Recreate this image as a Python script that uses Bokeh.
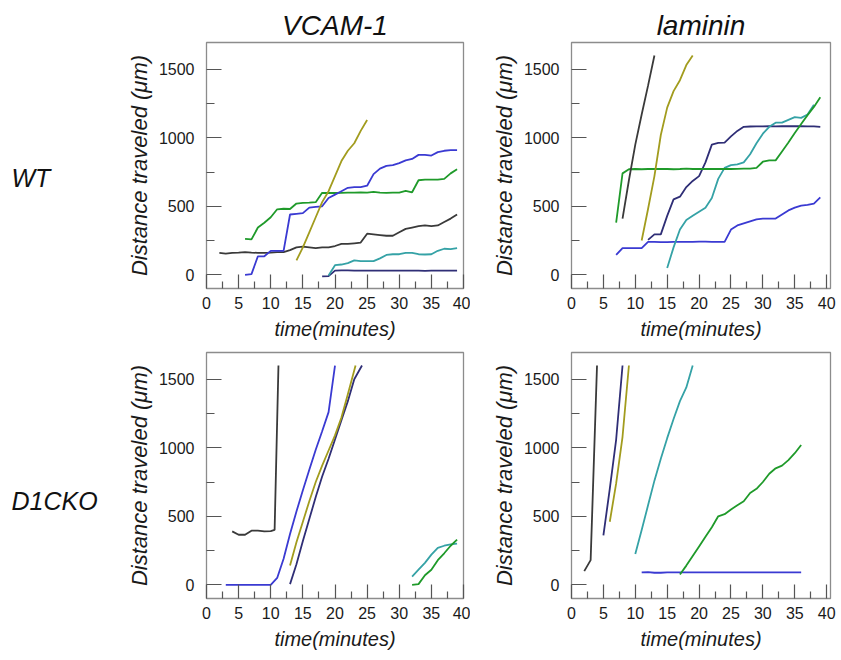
from bokeh.plotting import figure
from bokeh.models import Range1d, FixedTicker, Label
from bokeh.layouts import column, row
from bokeh.embed import file_html
from bokeh.resources import INLINE

# ---------------- data ----------------
col_titles = ["VCAM-1", "laminin"]
row_titles = ["WT", "D1CKO"]
x_ticks = [0, 5, 10, 15, 20, 25, 30, 35, 40]
x_minor = [2.5, 7.5, 12.5, 17.5, 22.5, 27.5, 32.5, 37.5]
y_ticks = [0, 500, 1000, 1500]
y_minor = [250, 750, 1250]

# VCAM-1, WT
vw_black_t = [2, 3, 4, 5, 6, 7, 8, 9, 10, 11, 12, 13, 14, 15, 16, 17, 18, 19, 20, 21, 22, 23, 24, 25, 26, 27, 28, 29, 30, 31, 32, 33, 34, 35, 36, 37, 38, 39]
vw_black_d = [160, 155, 160, 162, 165, 162, 160, 160, 162, 165, 165, 180, 200, 205, 200, 195, 200, 200, 210, 225, 225, 230, 235, 300, 295, 290, 285, 285, 310, 335, 345, 355, 360, 355, 360, 385, 410, 440]
vw_green_t = [6, 7, 8, 9, 10, 11, 12, 13, 14, 15, 16, 17, 18, 19, 20, 21, 22, 23, 24, 25, 26, 27, 28, 29, 30, 31, 32, 33, 34, 35, 36, 37, 38, 39]
vw_green_d = [262, 258, 345, 380, 420, 478, 482, 480, 520, 525, 527, 530, 598, 597, 597, 598, 600, 600, 602, 600, 605, 600, 598, 600, 600, 612, 602, 690, 695, 695, 695, 700, 740, 770]
vw_blue_t = [6, 7, 8, 9, 10, 11, 12, 13, 14, 15, 16, 17, 18, 19, 20, 21, 22, 23, 24, 25, 26, 27, 28, 29, 30, 31, 32, 33, 34, 35, 36, 37, 38, 39]
vw_blue_d = [0, 5, 135, 135, 175, 175, 175, 440, 445, 450, 490, 495, 500, 560, 585, 610, 635, 640, 640, 650, 735, 775, 795, 800, 815, 835, 845, 875, 875, 870, 895, 905, 910, 910]
vw_olive_t = [14, 15, 16, 17, 18, 19, 20, 21, 22, 23, 24, 25]
vw_olive_d = [105, 200, 310, 420, 530, 610, 720, 830, 905, 960, 1050, 1130]
vw_teal_t = [19, 20, 21, 22, 23, 24, 25, 26, 27, 28, 29, 30, 31, 32, 33, 34, 35, 36, 37, 38, 39]
vw_teal_d = [-5, 70, 75, 85, 105, 100, 100, 100, 120, 145, 150, 150, 160, 160, 150, 148, 150, 175, 190, 188, 195]
vw_navy_t = [18, 19, 20, 21, 22, 23, 24, 25, 26, 27, 28, 29, 30, 31, 32, 33, 34, 35, 36, 37, 38, 39]
vw_navy_d = [-12, -10, 30, 32, 32, 31, 30, 30, 31, 30, 30, 30, 31, 30, 30, 30, 29, 30, 30, 30, 30, 30]

# laminin, WT
lw_black_t = [8, 9, 10, 11, 12, 13]
lw_black_d = [410, 690, 950, 1170, 1380, 1600]
lw_olive_t = [11, 12, 13, 14, 15, 16, 17, 18, 19]
lw_olive_d = [250, 480, 720, 1020, 1220, 1340, 1420, 1530, 1600]
lw_green_t = [7, 8, 9, 10, 11, 12, 13, 14, 15, 16, 17, 18, 19, 20, 21, 22, 23, 24, 25, 26, 27, 28, 29, 30, 31, 32, 33, 34, 35, 36, 37, 38, 39]
lw_green_d = [380, 740, 770, 772, 770, 772, 773, 772, 772, 770, 772, 775, 772, 772, 772, 773, 772, 772, 772, 773, 775, 775, 780, 825, 835, 835, 900, 965, 1035, 1100, 1165, 1225, 1295]
lw_navy_t = [12, 13, 14, 15, 16, 17, 18, 19, 20, 21, 22, 23, 24, 25, 26, 27, 28, 29, 30, 31, 32, 33, 34, 35, 36, 37, 38, 39]
lw_navy_d = [255, 295, 295, 430, 550, 570, 640, 685, 720, 820, 950, 962, 965, 1010, 1050, 1080, 1082, 1083, 1083, 1084, 1083, 1084, 1084, 1085, 1084, 1083, 1083, 1080]
lw_teal_t = [15, 16, 17, 18, 19, 20, 21, 22, 23, 24, 25, 26, 27, 28, 29, 30, 31, 32, 33, 34, 35, 36, 37, 38]
lw_teal_d = [50, 200, 330, 400, 430, 460, 490, 560, 700, 780, 800, 805, 820, 880, 960, 1030, 1080, 1110, 1110, 1130, 1150, 1145, 1170, 1240]
lw_blue_t = [7, 8, 9, 10, 11, 12, 13, 14, 15, 16, 17, 18, 19, 20, 21, 22, 23, 24, 25, 26, 27, 28, 29, 30, 31, 32, 33, 34, 35, 36, 37, 38, 39]
lw_blue_d = [145, 195, 195, 195, 195, 240, 240, 238, 238, 240, 240, 240, 240, 242, 242, 240, 240, 240, 330, 360, 375, 390, 405, 410, 410, 410, 440, 470, 490, 505, 510, 520, 565]

# VCAM-1, D1CKO
vk_black_t = [4, 5, 6, 7, 8, 9, 10, 10.6, 11.2]
vk_black_d = [390, 365, 365, 395, 395, 390, 392, 400, 1600]
vk_blue_t = [3, 4, 5, 6, 7, 8, 9, 10, 11, 12, 13, 14, 15, 16, 17, 18, 19, 20]
vk_blue_d = [0, 0, 0, 0, 0, 0, 0, 0, 50, 190, 370, 535, 690, 840, 985, 1120, 1260, 1600]
vk_olive_t = [13, 14, 15, 16, 17, 18, 19, 20, 21, 22, 23.2]
vk_olive_d = [140, 310, 460, 610, 750, 870, 980, 1090, 1220, 1390, 1600]
vk_navy_t = [13, 14, 15, 16, 17, 18, 19, 20, 21, 22, 23, 24.2]
vk_navy_d = [5, 150, 320, 480, 640, 790, 920, 1060, 1200, 1340, 1500, 1600]
vk_teal_t = [32, 33, 34, 35, 36, 37, 38, 39]
vk_teal_d = [60, 110, 160, 220, 270, 285, 295, 300]
vk_green_t = [32, 33, 34, 35, 36, 37, 38, 39]
vk_green_d = [0, 5, 70, 110, 180, 230, 285, 330]

# laminin, D1CKO
lk_black_t = [2, 3, 4]
lk_black_d = [100, 180, 1600]
lk_navy_t = [5, 6, 7, 8]
lk_navy_d = [360, 700, 1060, 1600]
lk_olive_t = [6, 7, 8, 9]
lk_olive_d = [460, 740, 1080, 1600]
lk_teal_t = [10, 11, 12, 13, 14, 15, 16, 17, 18, 19]
lk_teal_d = [225, 400, 580, 760, 920, 1070, 1210, 1340, 1440, 1600]
lk_blue_t = [11, 12, 13, 14, 15, 16, 17, 18, 19, 20, 21, 22, 23, 24, 25, 26, 27, 28, 29, 30, 31, 32, 33, 34, 35, 36]
lk_blue_d = [90, 92, 88, 88, 90, 90, 90, 90, 90, 90, 90, 90, 90, 90, 90, 90, 90, 90, 90, 90, 90, 90, 90, 90, 90, 90]
lk_green_t = [17, 18, 19, 20, 21, 22, 23, 24, 25, 26, 27, 28, 29, 30, 31, 32, 33, 34, 35, 36]
lk_green_d = [75, 140, 210, 280, 350, 420, 500, 515, 550, 580, 610, 670, 700, 750, 810, 850, 870, 910, 960, 1020]

# ---------------- styles ----------------
BLACK = "#3a3a3a"
OLIVE = "#a29c1e"
BLUE = "#3a3ad2"
GREEN = "#1f9a2a"
TEAL = "#35a2a6"
NAVY = "#2f2e76"
FONT = "Liberation Sans"
FRAME = "#8c8c8c"
TICK = "#555555"


def make_panel(width, height, bl, br, bt, bb, x_end, title=None):
    p = figure(width=width, height=height, output_backend="svg", toolbar_location=None,
               x_range=Range1d(0, x_end), y_range=Range1d(-100, 1695),
               min_border_left=bl, min_border_right=br, min_border_top=bt, min_border_bottom=bb,
               title=title)
    p.background_fill_color = "white"
    p.border_fill_color = "white"
    p.outline_line_color = FRAME
    p.outline_line_width = 1.3
    p.xgrid.visible = False
    p.ygrid.visible = False
    if title is not None:
        p.title.text_font = FONT
        p.title.text_font_size = "28px"
        p.title.text_font_style = "italic"
        p.title.text_color = "#111111"
        p.title.align = "center"
        p.title.standoff = 4
    else:
        p.title = None
    p.xaxis.ticker = FixedTicker(ticks=x_ticks, minor_ticks=x_minor)
    p.yaxis.ticker = FixedTicker(ticks=y_ticks, minor_ticks=y_minor)
    for ax in (p.xaxis, p.yaxis):
        ax.axis_line_color = None
        ax.major_tick_line_color = TICK
        ax.minor_tick_line_color = TICK
        ax.major_tick_line_width = 1.2
        ax.minor_tick_line_width = 1.2
        ax.major_tick_out = 0
        ax.minor_tick_out = 0
        ax.major_label_text_font = FONT
        ax.major_label_text_font_size = "16px"
        ax.major_label_text_color = "#1a1a1a"
        ax.axis_label_text_font = FONT
        ax.axis_label_text_font_style = "italic"
        ax.axis_label_text_color = "#1a1a1a"
    p.xaxis.axis_label_text_font_size = "20px"
    p.yaxis.axis_label_text_font_size = "22px"
    p.xaxis.major_tick_in = 14
    p.xaxis.minor_tick_in = 7
    p.yaxis.major_tick_in = 15
    p.yaxis.minor_tick_in = 8
    p.xaxis.axis_label = "time(minutes)"
    p.yaxis.axis_label = "Distance traveled (\u03bcm)"
    p.xaxis.major_label_standoff = 8
    p.xaxis.axis_label_standoff = 6
    p.yaxis.major_label_standoff = 12
    p.yaxis.axis_label_standoff = 4
    return p


def make_row_label(width, height, text, y_from_frame_bottom):
    p = figure(width=width, height=height, output_backend="svg", toolbar_location=None,
               x_range=Range1d(0, 1), y_range=Range1d(0, 1), title=None,
               min_border_left=0, min_border_right=0, min_border_top=0, min_border_bottom=0)
    p.axis.visible = False
    p.grid.visible = False
    p.outline_line_color = None
    p.add_layout(Label(x=11, y=y_from_frame_bottom, x_units="screen", y_units="screen", text=text,
                       text_font=FONT, text_font_size="25px", text_font_style="italic",
                       text_color="#111111", text_baseline="middle", text_align="left"))
    return p


def add_lines(p, series):
    for t, d, c in series:
        p.line(t, d, line_color=c, line_width=1.8)


LABW = 118
LW, RW = 470 - LABW, 371
TH, BH = 344, 316

lab1 = make_row_label(LABW, TH, row_titles[0], 111)
lab2 = make_row_label(LABW, BH, row_titles[1], 98)
p1 = make_panel(LW, TH, 206 - LABW, 7, 42, 56, 40.0, col_titles[0])
p2 = make_panel(RW, TH, 101, 11, 42, 56, 40.6, col_titles[1])
p3 = make_panel(LW, BH, 206 - LABW, 7, 8, 62, 40.0)
p4 = make_panel(RW, BH, 101, 11, 8, 62, 40.6)

add_lines(p1, [(vw_black_t, vw_black_d, BLACK), (vw_navy_t, vw_navy_d, NAVY), (vw_teal_t, vw_teal_d, TEAL),
               (vw_green_t, vw_green_d, GREEN), (vw_blue_t, vw_blue_d, BLUE), (vw_olive_t, vw_olive_d, OLIVE)])
add_lines(p2, [(lw_blue_t, lw_blue_d, BLUE), (lw_navy_t, lw_navy_d, NAVY), (lw_teal_t, lw_teal_d, TEAL),
               (lw_green_t, lw_green_d, GREEN), (lw_black_t, lw_black_d, BLACK), (lw_olive_t, lw_olive_d, OLIVE)])
add_lines(p3, [(vk_black_t, vk_black_d, BLACK), (vk_navy_t, vk_navy_d, NAVY), (vk_olive_t, vk_olive_d, OLIVE),
               (vk_blue_t, vk_blue_d, BLUE), (vk_teal_t, vk_teal_d, TEAL), (vk_green_t, vk_green_d, GREEN)])
add_lines(p4, [(lk_black_t, lk_black_d, BLACK), (lk_navy_t, lk_navy_d, NAVY), (lk_olive_t, lk_olive_d, OLIVE),
               (lk_teal_t, lk_teal_d, TEAL), (lk_blue_t, lk_blue_d, BLUE), (lk_green_t, lk_green_d, GREEN)])

layout = column(row(lab1, p1, p2), row(lab2, p3, p4))
open("out.html", "w").write(file_html(layout, INLINE))
